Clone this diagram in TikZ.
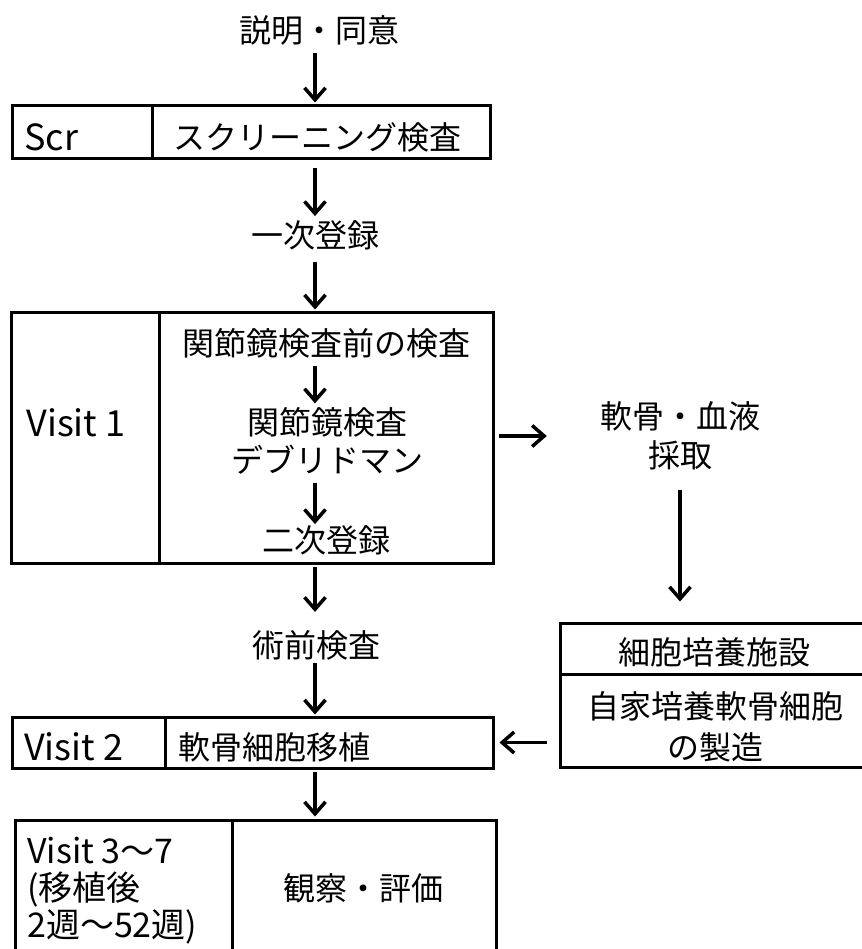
\documentclass[tikz,border=0pt]{standalone}
\usepackage{fontspec}
\newfontfamily\jp{Noto Sans CJK JP}
\usetikzlibrary{arrows.meta}
\begin{document}
\begin{tikzpicture}[x=1pt,y=-1pt,
  cell/.style={draw,line width=3pt,inner sep=0pt,anchor=center},
  txt/.style={inner sep=0pt,font=\jp\fontsize{32}{38}\selectfont,align=center},
  lat/.style={inner sep=0pt,font=\jp\fontsize{36}{40}\selectfont},
  arr/.style={line width=3.5pt,-{Straight Barb[length=12pt,width=21pt]}}]
\useasboundingbox[fill=white] (0,0) rectangle (861,949);
\coordinate (ax) at (315,0);
% texts and cells
\node[txt] (title) at (319,30) {説明・同意};
\node[cell,minimum width=140pt,minimum height=53pt] (scrL) at (82,132.5) {};
\node[cell,minimum width=338pt,minimum height=53pt] (scrR) at (321,132.5) {};
\node[lat,anchor=west] (scrT) at (24,137) {Scr};
\node[txt] (scrD) at (317,137) {スクリーニング検査};
\node[txt] (reg1) at (315,235) {一次登録};
\node[cell,minimum width=148pt,minimum height=251pt] (v1L) at (85,437.5) {};
\node[cell,minimum width=334pt,minimum height=251pt] (v1R) at (326,437.5) {};
\node[lat] (v1T) at (76,423) {Visit 1};
\node[txt] (pre) at (326,343) {関節鏡検査前の検査};
\node[txt] (arth) at (327,441) {関節鏡検査\\デブリドマン};
\node[txt] (reg2) at (326,540) {二次登録};
\node[txt,font=\jp\fontsize{32}{39}\selectfont] (sample) at (680,436) {軟骨・血液\\採取};
\node[cell,minimum width=310pt,minimum height=51pt] (facT) at (715,648.5) {};
\node[cell,minimum width=310pt,minimum height=93pt] (facB) at (715,720.5) {};
\node[txt] (facTT) at (714,652) {細胞培養施設};
\node[txt,font=\jp\fontsize{32}{41}\selectfont] (facBT) at (715,727) {自家培養軟骨細胞\\の製造};
\node[txt] (preop) at (316,645) {術前検査};
\node[cell,minimum width=153pt,minimum height=51pt] (v2L) at (88.5,742.5) {};
\node[cell,minimum width=328pt,minimum height=51pt] (v2R) at (329,742.5) {};
\node[lat,anchor=west] (v2T) at (24,747) {Visit 2};
\node[txt,anchor=west] (v2D) at (178,747) {軟骨細胞移植};
\node[cell,minimum width=217pt,minimum height=132pt] (v3L) at (123.5,886) {};
\node[cell,minimum width=264pt,minimum height=132pt] (v3R) at (364,886) {};
\node[txt,anchor=west,align=left,font=\jp\fontsize{34}{37}\selectfont] (v3T) at (27,891) {Visit 3〜7\\(移植後\\2週〜52週)};
\node[txt] (v3D) at (363,888) {観察・評価};
% arrows
\draw[arr,shorten <=8pt,shorten >=2pt] (title.south -| ax) -- (scrR.north -| ax);
\draw[arr,shorten <=8pt,shorten >=4pt] (scrR.south -| ax) -- (reg1.north -| ax);
\draw[arr,shorten <=12pt,shorten >=1pt] (reg1.south -| ax) -- (v1R.north -| ax);
\draw[arr,shorten <=8pt,shorten >=4pt] (pre.south -| ax) -- (arth.north -| ax);
\draw[arr,shorten <=8pt,shorten >=1pt] (arth.south -| ax) -- (reg2.north -| ax);
\draw[arr,shorten <=2pt,shorten >=18pt] (v1R.south -| ax) -- (preop.north -| ax);
\draw[arr,shorten <=3pt,shorten >=1pt] (preop.south -| ax) -- (v2R.north -| ax);
\draw[arr,shorten <=2pt,shorten >=2pt] (v2R.south -| ax) -- (v3R.north -| ax);
\draw[arr,shorten <=4pt,shorten >=53pt] (sample.west -| v1R.east) -- (sample.west);
\draw[arr,shorten <=20pt,shorten >=20pt] (sample.south) -- (sample.south |- facT.north);
\draw[arr,shorten <=12pt,shorten >=5pt] (v2R.east -| facB.west) -- (v2R.east);
\end{tikzpicture}
\end{document}
